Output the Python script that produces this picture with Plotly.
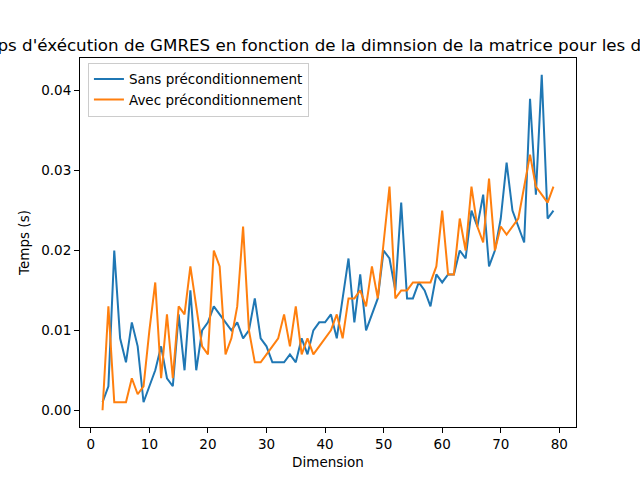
"""Temps d'exécution de GMRES, avec et sans préconditionnement"""
import plotly.graph_objects as go

dimensions = list(range(2, 80))

temps_sans = [
    0.001, 0.003, 0.020, 0.009, 0.006, 0.011, 0.008, 0.001, 0.003, 0.005,
    0.008, 0.004, 0.003, 0.012, 0.005, 0.015, 0.005, 0.010, 0.011, 0.013,
    0.012, 0.011, 0.010, 0.011, 0.009, 0.010, 0.014, 0.009, 0.008, 0.006,
    0.006, 0.006, 0.007, 0.006, 0.009, 0.007, 0.010, 0.011, 0.011, 0.012,
    0.009, 0.014, 0.019, 0.011, 0.017, 0.010, 0.012, 0.014, 0.020, 0.019,
    0.015, 0.026, 0.014, 0.014, 0.016, 0.015, 0.013, 0.017, 0.016, 0.017,
    0.017, 0.020, 0.019, 0.025, 0.023, 0.027, 0.018, 0.020, 0.024, 0.031,
    0.025, 0.023, 0.021, 0.039, 0.027, 0.042, 0.024, 0.025,
]

temps_avec = [
    0.000, 0.013, 0.001, 0.001, 0.001, 0.004, 0.002, 0.003, 0.010, 0.016,
    0.004, 0.012, 0.004, 0.013, 0.012, 0.018, 0.013, 0.008, 0.007, 0.020,
    0.018, 0.007, 0.009, 0.013, 0.023, 0.010, 0.006, 0.006, 0.007, 0.008,
    0.009, 0.012, 0.008, 0.013, 0.007, 0.009, 0.007, 0.008, 0.009, 0.010,
    0.012, 0.009, 0.014, 0.014, 0.015, 0.013, 0.018, 0.014, 0.021, 0.028,
    0.014, 0.015, 0.015, 0.016, 0.016, 0.016, 0.016, 0.018, 0.025, 0.017,
    0.017, 0.024, 0.020, 0.028, 0.023, 0.021, 0.029, 0.020, 0.023, 0.022,
    0.023, 0.024, 0.028, 0.032, 0.028, 0.027, 0.026, 0.028,
]

x_ticks = [0, 10, 20, 30, 40, 50, 60, 70, 80]
y_ticks = [0.00, 0.01, 0.02, 0.03, 0.04]

titre = ("Temps d'éxécution de GMRES en fonction de la dimnsion "
         "de la matrice pour les deux cas")

fig = go.Figure()
fig.add_trace(go.Scatter(x=dimensions, y=temps_sans, mode="lines",
                         name="Sans préconditionnement",
                         line=dict(color="#1f77b4", width=2)))
fig.add_trace(go.Scatter(x=dimensions, y=temps_avec, mode="lines",
                         name="Avec préconditionnement",
                         line=dict(color="#ff7f0e", width=2)))

axis_style = dict(showgrid=False, zeroline=False, showline=True, mirror=True,
                  linecolor="black", linewidth=1, ticks="outside", ticklen=5,
                  tickcolor="black", tickfont=dict(size=13.5, color="black"))

fig.update_xaxes(range=[-1.85, 82.85], tickvals=x_ticks,
                 title=dict(text="Dimension", font=dict(size=13.5), standoff=6),
                 **axis_style)
fig.update_yaxes(range=[-0.0021, 0.0441], tickvals=y_ticks, tickformat=".2f",
                 title=dict(text="Temps (s)", font=dict(size=13.5), standoff=8),
                 **axis_style)

fig.update_layout(
    width=640, height=480,
    margin=dict(l=80, r=64, t=58, b=53),
    paper_bgcolor="white", plot_bgcolor="white",
    font=dict(family="DejaVu Sans", color="black"),
    title=dict(text=titre, x=0.513, xref="paper", y=1 - 45 / 480,
               yref="container", xanchor="center", yanchor="middle",
               font=dict(size=16.7)),
    legend=dict(x=0.016, y=0.987, xanchor="left", yanchor="top",
                bgcolor="rgba(255,255,255,0.8)", bordercolor="#cccccc",
                borderwidth=1, font=dict(size=13.5), tracegroupgap=0),
    showlegend=True,
)

# la page par défaut a une marge de 8 px autour du graphique
fig.write_html("out.html", config={"displayModeBar": False},
               post_script="document.body.style.margin = '0';")
